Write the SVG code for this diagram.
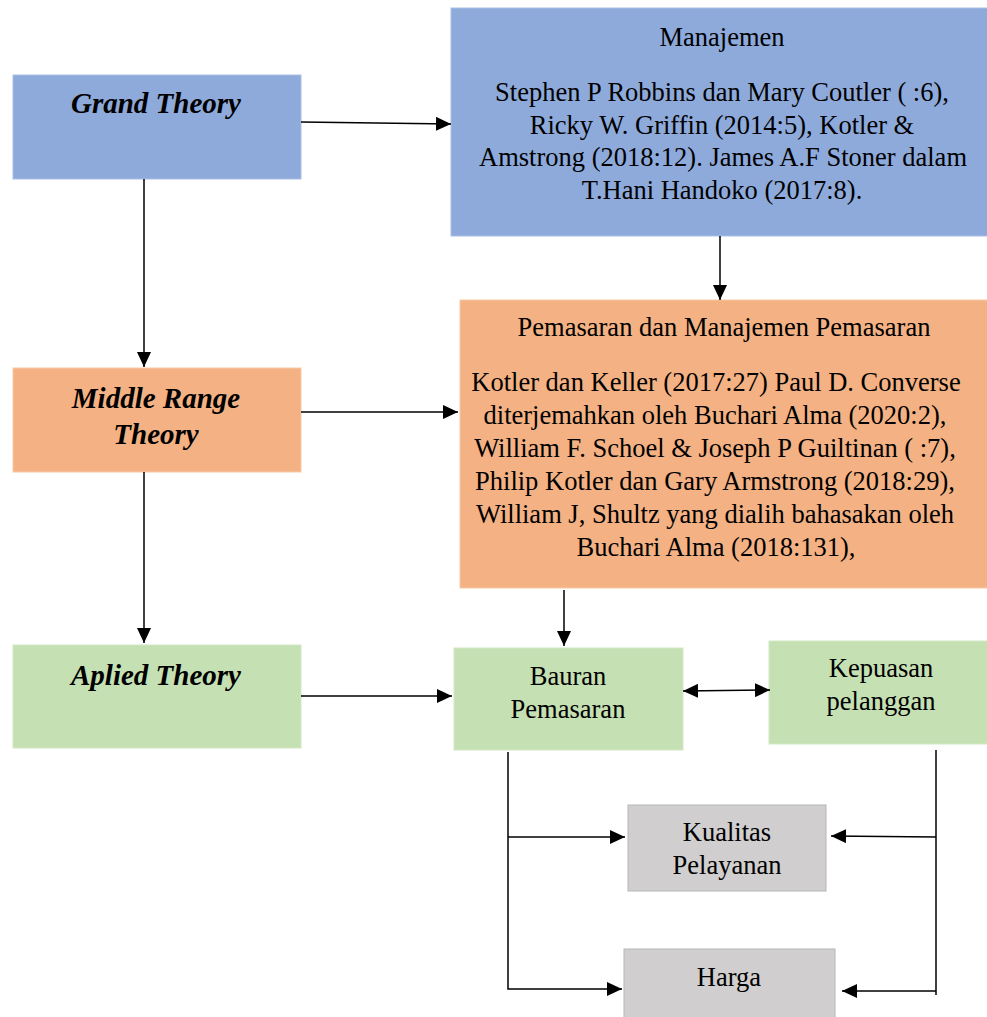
<svg xmlns="http://www.w3.org/2000/svg" width="987" height="1017" viewBox="0 0 987 1017">
<style>
.t{font-family:"Liberation Serif","Times New Roman",serif;font-size:26.5px;fill:#000;text-anchor:middle}
.h{font-family:"Liberation Serif","Times New Roman",serif;font-size:29px;font-weight:bold;font-style:italic;fill:#000;text-anchor:middle}
.blue{fill:#8EAADB;stroke:#A9BFE6;stroke-width:1}
.orange{fill:#F4B183;stroke:#F8C9A6;stroke-width:1}
.green{fill:#C5E0B3;stroke:#D3E8C5;stroke-width:1}
.grey{fill:#D0CECE;stroke:#B8B6B6;stroke-width:1}
.c{fill:none;stroke:#000;stroke-width:1.5}
</style>
<defs>
<marker id="ah" markerUnits="userSpaceOnUse" markerWidth="16" markerHeight="14" refX="15" refY="7" orient="auto-start-reverse">
<path d="M0,0 L15,7 L0,14 z" fill="#000"/>
</marker>
</defs>
<g id="grand"><rect class="blue" x="13" y="75" width="288" height="104"/><text class="h" x="156" y="113">Grand Theory</text></g>
<g id="middle"><rect class="orange" x="13" y="368" width="288" height="104"/><text class="h" x="156" y="408">Middle Range</text><text class="h" x="156" y="444">Theory</text></g>
<g id="applied"><rect class="green" x="13" y="645" width="288" height="103"/><text class="h" x="156" y="685">Aplied Theory</text></g>
<g id="manajemen"><rect class="blue" x="451" y="8" width="540" height="228"/>
<text class="t" x="722" y="46">Manajemen</text>
<text class="t" x="722" y="101">Stephen P Robbins dan Mary Coutler ( :6),</text>
<text class="t" x="722" y="134">Ricky W. Griffin (2014:5), Kotler &amp;</text>
<text class="t" x="723" y="166">Amstrong (2018:12). James A.F Stoner dalam</text>
<text class="t" x="722" y="199">T.Hani Handoko (2017:8).</text></g>
<g id="pemasaran"><rect class="orange" x="460" y="300" width="531" height="288"/>
<text class="t" x="724" y="336">Pemasaran dan Manajemen Pemasaran</text>
<text class="t" x="716" y="391">Kotler dan Keller (2017:27) Paul D. Converse</text>
<text class="t" x="715" y="424">diterjemahkan oleh Buchari Alma (2020:2),</text>
<text class="t" x="715" y="457">William F. Schoel &amp; Joseph P Guiltinan ( :7),</text>
<text class="t" x="715" y="490">Philip Kotler dan Gary Armstrong (2018:29),</text>
<text class="t" x="715" y="523">William J, Shultz yang dialih bahasakan oleh</text>
<text class="t" x="716" y="556">Buchari Alma (2018:131),</text></g>
<g id="bauran"><rect class="green" x="454" y="648" width="229" height="102"/><text class="t" x="568" y="685">Bauran</text><text class="t" x="568" y="718">Pemasaran</text></g>
<g id="kepuasan"><rect class="green" x="769" y="641" width="222" height="103"/><text class="t" x="881" y="677">Kepuasan</text><text class="t" x="881" y="710">pelanggan</text></g>
<g id="kualitas"><rect class="grey" x="628" y="805" width="198" height="86"/><text class="t" x="727" y="841">Kualitas</text><text class="t" x="727" y="874">Pelayanan</text></g>
<g id="harga"><rect class="grey" x="624" y="949" width="211" height="72"/><text class="t" x="729" y="986">Harga</text></g>
<g id="connectors">
<path class="c" d="M301,122 L451,124" marker-end="url(#ah)"/>
<path class="c" d="M144,179 L144,367" marker-end="url(#ah)"/>
<path class="c" d="M144,472 L144,643" marker-end="url(#ah)"/>
<path class="c" d="M301,412 L458,412" marker-end="url(#ah)"/>
<path class="c" d="M720,236 L720,300" marker-end="url(#ah)"/>
<path class="c" d="M301,696 L452,696" marker-end="url(#ah)"/>
<path class="c" d="M564,590 L564,646" marker-end="url(#ah)"/>
<path class="c" d="M683,691 L770,690" marker-start="url(#ah)" marker-end="url(#ah)"/>
<path class="c" d="M508,752 L508,989 L622,989" marker-end="url(#ah)"/>
<path class="c" d="M508,837 L625,837" marker-end="url(#ah)"/>
<path class="c" d="M936,750 L936,995"/>
<path class="c" d="M936,837 L831,836" marker-end="url(#ah)"/>
<path class="c" d="M936,991 L842,991" marker-end="url(#ah)"/>
</g>
</svg>
